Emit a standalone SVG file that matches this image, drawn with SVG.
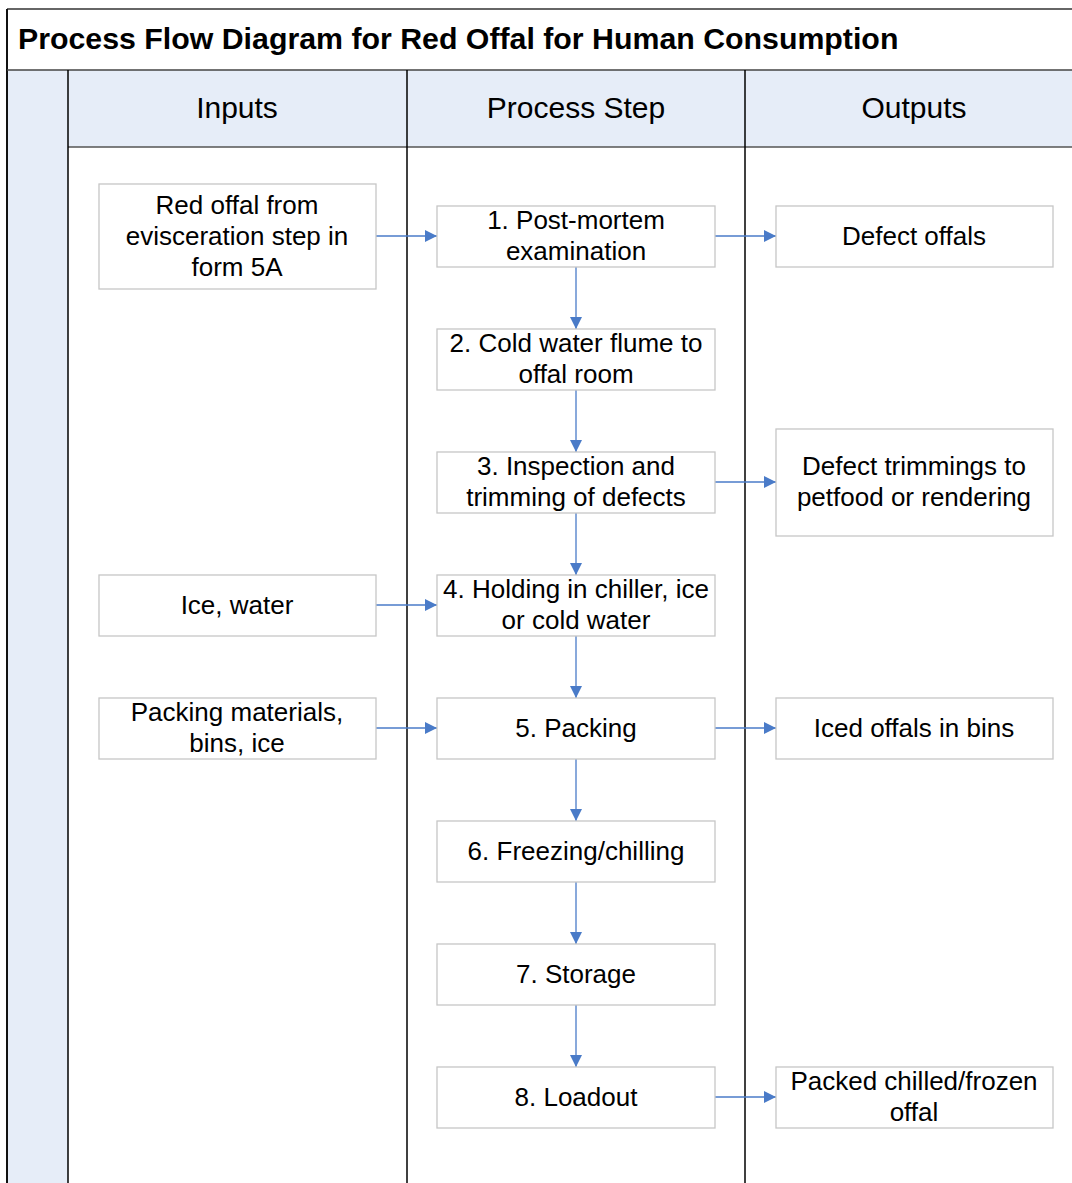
<svg xmlns="http://www.w3.org/2000/svg" width="1072" height="1183" viewBox="0 0 1072 1183">
<style>
.t{font-family:"Liberation Sans",Arial,sans-serif;font-size:26px;fill:#000;text-anchor:middle}
.h{font-family:"Liberation Sans",Arial,sans-serif;font-size:30px;fill:#000;text-anchor:middle}
.title{font-family:"Liberation Sans",Arial,sans-serif;font-size:30.3px;font-weight:bold;fill:#000}
.box{fill:#fff;stroke:#c6c6c6;stroke-width:1.3}
.c{stroke:#4a7bc8;stroke-width:1.3;fill:none}
.ln{stroke:#000;stroke-width:1.5}
</style>
<defs>
<marker id="ah" markerWidth="12" markerHeight="12" refX="12" refY="6" orient="auto" markerUnits="userSpaceOnUse">
<path d="M0,0 L12,6 L0,12 Z" fill="#4a7bc8"/>
</marker>
</defs>
<rect x="0" y="0" width="1072" height="1183" fill="#fff"/>
<g id="frame">
<rect x="7" y="70" width="61" height="1115" fill="#e6edf8"/>
<rect x="68" y="70" width="1010" height="77" fill="#e6edf8"/>
<line x1="7" y1="9" x2="1072" y2="9" stroke="#333" stroke-width="1.5"/>
<line x1="7" y1="9" x2="7" y2="1183" stroke="#111" stroke-width="2"/>
<line x1="7" y1="70" x2="1072" y2="70" stroke="#444" stroke-width="1.5"/>
<line x1="68" y1="147" x2="1072" y2="147" stroke="#555" stroke-width="1.3"/>
<line class="ln" x1="68" y1="70" x2="68" y2="1183"/>
<line class="ln" x1="407" y1="70" x2="407" y2="1183"/>
<line class="ln" x1="745" y1="70" x2="745" y2="1183"/>
<text class="title" x="18" y="49">Process Flow Diagram for Red Offal for Human Consumption</text>
<text class="h" x="237" y="118">Inputs</text>
<text class="h" x="576" y="118">Process Step</text>
<text class="h" x="914" y="118">Outputs</text>
</g>
<g id="connectors">
<line class="c" x1="376" y1="236" x2="437" y2="236" marker-end="url(#ah)"/>
<line class="c" x1="715" y1="236" x2="776" y2="236" marker-end="url(#ah)"/>
<line class="c" x1="576" y1="267" x2="576" y2="329" marker-end="url(#ah)"/>
<line class="c" x1="576" y1="390" x2="576" y2="452" marker-end="url(#ah)"/>
<line class="c" x1="715" y1="482" x2="776" y2="482" marker-end="url(#ah)"/>
<line class="c" x1="576" y1="513" x2="576" y2="575" marker-end="url(#ah)"/>
<line class="c" x1="376" y1="605" x2="437" y2="605" marker-end="url(#ah)"/>
<line class="c" x1="576" y1="636" x2="576" y2="698" marker-end="url(#ah)"/>
<line class="c" x1="376" y1="728" x2="437" y2="728" marker-end="url(#ah)"/>
<line class="c" x1="715" y1="728" x2="776" y2="728" marker-end="url(#ah)"/>
<line class="c" x1="576" y1="759" x2="576" y2="821" marker-end="url(#ah)"/>
<line class="c" x1="576" y1="882" x2="576" y2="944" marker-end="url(#ah)"/>
<line class="c" x1="576" y1="1005" x2="576" y2="1067" marker-end="url(#ah)"/>
<line class="c" x1="715" y1="1097" x2="776" y2="1097" marker-end="url(#ah)"/>
</g>
<g id="in1"><rect class="box" x="99" y="184" width="277" height="105"/>
<text class="t" x="237" y="214">Red offal from</text><text class="t" x="237" y="245">evisceration step in</text><text class="t" x="237" y="276">form 5A</text></g>
<g id="p1"><rect class="box" x="437" y="206" width="278" height="61"/>
<text class="t" x="576" y="229">1. Post-mortem</text><text class="t" x="576" y="260">examination</text></g>
<g id="o1"><rect class="box" x="776" y="206" width="277" height="61"/>
<text class="t" x="914" y="245">Defect offals</text></g>
<g id="p2"><rect class="box" x="437" y="329" width="278" height="61"/>
<text class="t" x="576" y="352">2. Cold water flume to</text><text class="t" x="576" y="383">offal room</text></g>
<g id="p3"><rect class="box" x="437" y="452" width="278" height="61"/>
<text class="t" x="576" y="475">3. Inspection and</text><text class="t" x="576" y="506">trimming of defects</text></g>
<g id="o3"><rect class="box" x="776" y="429" width="277" height="107"/>
<text class="t" x="914" y="475">Defect trimmings to</text><text class="t" x="914" y="506">petfood or rendering</text></g>
<g id="in4"><rect class="box" x="99" y="575" width="277" height="61"/>
<text class="t" x="237" y="614">Ice, water</text></g>
<g id="p4"><rect class="box" x="437" y="575" width="278" height="61"/>
<text class="t" x="576" y="598">4. Holding in chiller, ice</text><text class="t" x="576" y="629">or cold water</text></g>
<g id="in5"><rect class="box" x="99" y="698" width="277" height="61"/>
<text class="t" x="237" y="721">Packing materials,</text><text class="t" x="237" y="752">bins, ice</text></g>
<g id="p5"><rect class="box" x="437" y="698" width="278" height="61"/>
<text class="t" x="576" y="737">5. Packing</text></g>
<g id="o5"><rect class="box" x="776" y="698" width="277" height="61"/>
<text class="t" x="914" y="737">Iced offals in bins</text></g>
<g id="p6"><rect class="box" x="437" y="821" width="278" height="61"/>
<text class="t" x="576" y="860">6. Freezing/chilling</text></g>
<g id="p7"><rect class="box" x="437" y="944" width="278" height="61"/>
<text class="t" x="576" y="983">7. Storage</text></g>
<g id="p8"><rect class="box" x="437" y="1067" width="278" height="61"/>
<text class="t" x="576" y="1106">8. Loadout</text></g>
<g id="o8"><rect class="box" x="776" y="1067" width="277" height="61"/>
<text class="t" x="914" y="1090">Packed chilled/frozen</text><text class="t" x="914" y="1121">offal</text></g>
</svg>
